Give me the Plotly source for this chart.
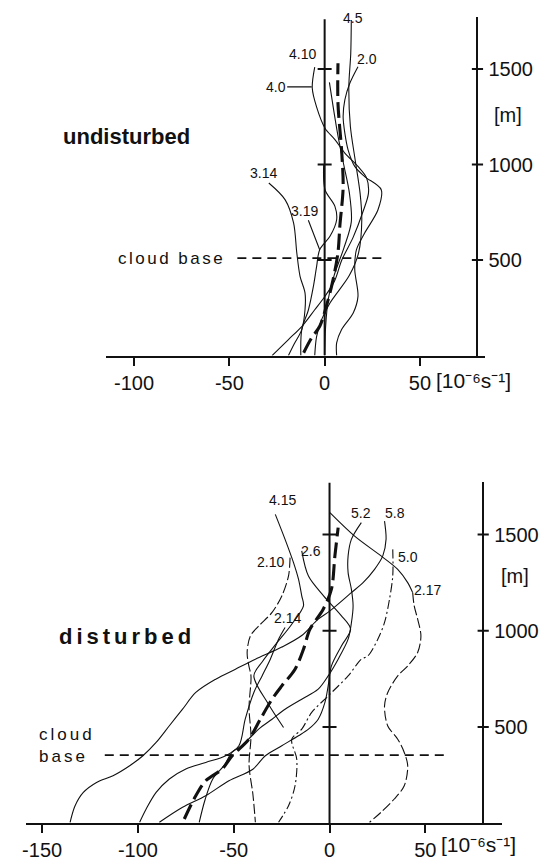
import plotly.graph_objects as go

W, H = 550, 861
INK = "#111111"
FONT = "Liberation Sans"

# ---------------- undisturbed case: divergence (1e-6 s^-1) against height (m) ----------------
UND_MEAN_DIV = [-11, -7, -2.5, 1.5, 4.5, 7, 8, 9.7, 9, 7, 7]
UND_MEAN_Z = [15, 90, 155, 280, 400, 540, 680, 880, 1060, 1320, 1530]

UND_45_DIV = [14, 13.7, 12.7, 13.5, 16, 18.6, 19.5, 17.8, 13, 2.8, -1.6, -4.2, -5.2]
UND_45_Z = [1756, 1580, 1408, 1200, 1025, 850, 711, 537, 420, 275, 188, 101, 0]

UND_20_DIV = [17.5, 13.2, 10.6, 9.7, 10.6, 12.3, 15.8, 21, 29.7, 28, 21, 16.7, 15.8, 17.5, 15, 8.9, 6.3, 6.3]
UND_20_Z = [1512, 1425, 1338, 1251, 1164, 1077, 990, 937, 868, 763, 641, 554, 450, 310, 223, 136, 66, 0]

UND_410_DIV = [-5.2, -6.5, -4.2, 0.2, 5.4, 10.6, 17.5, 22, 23, 20, 15, 9, 5.2, 0, -5.2, -12, -19, -27.6]
UND_410_Z = [1510, 1400, 1300, 1190, 1130, 1060, 990, 930, 850, 750, 620, 500, 390, 308, 240, 152, 84, 0]

UND_40_DIV = [2.5, 4.5, 7, 10, 13, 14, 10, 5, 2, 0.5, 0]
UND_40_Z = [1430, 1300, 1150, 1000, 850, 700, 560, 420, 300, 150, 0]

UND_314_DIV = [-29.3, -20.7, -16.3, -14.6, -12.9, -10.3, -10.3, -12, -16, -19]
UND_314_Z = [903, 815, 694, 537, 415, 328, 240, 136, 60, 0]

UND_319_DIV = [-0.5, 0.2, 5.4, 6.3, 2.8, -2.6, -4.2, -5.9, -8.5, -12, -12.5]
UND_319_Z = [1000, 868, 781, 711, 624, 554, 467, 362, 240, 136, 0]

UND_CLOUD_BASE = 510
UND_CLOUD_SPAN = [-45.8, 30.7]

# ---------------- disturbed case ----------------
DIS_MEAN_DIV = [-75.8, -69.8, -64.6, -56, -50.8, -42.1, -36.1, -30, -24.9, -18, -13.6, -10.2, -3.3, 1, 2.8, 4.5]
DIS_MEAN_Z = [21, 142, 220, 281, 350, 436, 540, 644, 713, 800, 904, 1008, 1112, 1216, 1389, 1536]

DIS_58_DIV = [28.7, 29.5, 27.8, 23.5, 17.5, 11.4, 0.2, -5.9, -14.5, -24.9, -38.7, -49.1, -59.4, -69.8,
              -76.7, -83.6, -90.5, -97.4, -104.3, -113, -121.6, -128.5, -132.8, -135.4]
DIS_58_Z = [1570, 1475, 1389, 1319, 1250, 1198, 1103, 1060, 975, 915, 852, 800, 748, 679,
            592, 506, 419, 350, 298, 246, 211, 159, 90, 4]

DIS_214_DIV = [-23.2, -26.6, -30.9, -35.2, -39.5, -44, -47.3, -54.2, -64.6, -75, -83.6, -90.5, -95.7, -99.1]
DIS_214_Z = [1017, 956, 852, 765, 679, 540, 402, 350, 315, 281, 229, 159, 73, 4]

DIS_415_DIV = [-28.3, -23.2, -18.8, -16.2, -14.5, -13.6, -20, -28, -35, -39.5, -32, -24]
DIS_415_Z = [1605, 1475, 1354, 1268, 1181, 1129, 1030, 930, 840, 765, 620, 497]

DIS_26_DIV = [-14.5, -11, -3, 6, 11, 6.2, 1, -0.7, -2.4, -5.9, -11, -16.2, -24.9, -33.5, -40,
              -52.5, -64.6, -76.7, -88.8]
DIS_26_Z = [1415, 1284, 1180, 1080, 1008, 921, 817, 713, 627, 540, 488, 454, 402, 350, 280,
            220, 142, 82, 4]

DIS_210_DIV = [-20.6, -21.4, -24.9, -30, -36.9, -41.3, -43, -42.1, -41, -42, -41, -42, -40, -38.7]
DIS_210_Z = [1380, 1285, 1181, 1095, 1025, 973, 887, 817, 765, 600, 450, 300, 150, 4]

DIS_52_DIV = [16.6, 11.4, 9.7, 9.7, 11.4, 12.3, 11.4, 9.7, 4.5, -0.7, -5.9, -14.5, -23.2, -30, -37,
              -46, -50.8, -55, -61, -65, -68]
DIS_52_Z = [1562, 1475, 1389, 1302, 1216, 1129, 1040, 956, 852, 765, 696, 644, 592, 540, 488,
            400, 369, 300, 228, 120, 4]

DIS_50_DIV = [33, 33, 31.3, 28.7, 25.2, 20, 16.6, 9.7, -0.7, -9.3, -14.5, -19.7, -17.1, -18, -21.4, -26.6]
DIS_50_Z = [1423, 1285, 1164, 1043, 956, 869, 852, 765, 661, 575, 488, 436, 332, 194, 90, 4]

DIS_217_UP_DIV = [0.2, 13.1, 26.9, 35.6, 40.8, 43.4]
DIS_217_UP_Z = [1614, 1492, 1389, 1319, 1250, 1198]
DIS_217_LO_DIV = [43.4, 44.2, 46, 47.7, 46, 40.8, 35.6, 30.4, 28.7, 30.4, 35.6, 39, 40.8, 39, 33.8, 26.9, 20.9]
DIS_217_LO_Z = [1198, 1129, 1060, 973, 887, 817, 765, 679, 609, 505, 436, 367, 298, 194, 125, 56, 4]

DIS_CLOUD_BASE = 353
DIS_CLOUD_SPAN = [-117.3, 60.6]

# axis ticks
X_TICKS_TOP = [-100, -50, 0, 50]
X_TICKS_BOT = [-150, -100, -50, 0, 50]
Z_TICKS = [500, 1000, 1500]
AXIS_TOP_Z = [1760, 1771]
RIGHT_AXIS_DIV = 80.2

# panel frames (pixels) and value ranges
TOP = dict(left=103, right=485, base=356, top=17, xr=[-114.6, 84.4], zr=[0, 1772])
BOT = dict(left=22, right=502, base=824, top=483, xr=[-158.5, 90.2], zr=[0, 1771])


def py(row):
    return (H - row) / H


def right_axis_pos(p):
    frac = (RIGHT_AXIS_DIV - p["xr"][0]) / (p["xr"][1] - p["xr"][0])
    return (p["left"] + frac * (p["right"] - p["left"])) / W


fig = go.Figure()


def curve(x, y, xa, ya, width=1.1, dash="solid", smooth=0.9):
    fig.add_trace(go.Scatter(
        x=x, y=y, xaxis=xa, yaxis=ya, mode="lines",
        line=dict(color=INK, width=width, dash=dash, shape="spline", smoothing=smooth),
        hoverinfo="skip", showlegend=False))


def frame(xa, ya, top_z):
    # central zero line and its height marks, plus crossing marks on the height axis
    fig.add_trace(go.Scatter(x=[0, 0], y=[0, top_z], xaxis=xa, yaxis=ya, mode="lines",
                             line=dict(color=INK, width=2), hoverinfo="skip", showlegend=False))
    fig.add_trace(go.Scatter(x=[0] * len(Z_TICKS), y=Z_TICKS, xaxis=xa, yaxis=ya, mode="markers",
                             marker=dict(symbol="line-ew", size=10, line=dict(color=INK, width=2)),
                             hoverinfo="skip", showlegend=False))
    fig.add_trace(go.Scatter(x=[RIGHT_AXIS_DIV] * len(Z_TICKS), y=Z_TICKS, xaxis=xa, yaxis=ya,
                             mode="markers",
                             marker=dict(symbol="line-ew", size=8, line=dict(color=INK, width=2)),
                             hoverinfo="skip", showlegend=False))


# ---- undisturbed panel ----
frame("x", "y", AXIS_TOP_Z[0])
fig.add_trace(go.Scatter(x=UND_CLOUD_SPAN, y=[UND_CLOUD_BASE] * 2, xaxis="x", yaxis="y", mode="lines",
                         line=dict(color=INK, width=1.6, dash="9px,6px"), hoverinfo="skip", showlegend=False))
curve(UND_45_DIV, UND_45_Z, "x", "y")
curve(UND_20_DIV, UND_20_Z, "x", "y")
curve(UND_410_DIV, UND_410_Z, "x", "y")
curve(UND_40_DIV, UND_40_Z, "x", "y")
curve(UND_314_DIV, UND_314_Z, "x", "y")
curve(UND_319_DIV, UND_319_Z, "x", "y")
curve(UND_MEAN_DIV, UND_MEAN_Z, "x", "y", width=3.1, dash="16px,6px")

# ---- disturbed panel ----
frame("x2", "y2", AXIS_TOP_Z[1])
fig.add_trace(go.Scatter(x=DIS_CLOUD_SPAN, y=[DIS_CLOUD_BASE] * 2, xaxis="x2", yaxis="y2", mode="lines",
                         line=dict(color=INK, width=1.6, dash="9px,6px"), hoverinfo="skip", showlegend=False))
curve(DIS_58_DIV, DIS_58_Z, "x2", "y2")
curve(DIS_214_DIV, DIS_214_Z, "x2", "y2")
curve(DIS_415_DIV, DIS_415_Z, "x2", "y2")
curve(DIS_26_DIV, DIS_26_Z, "x2", "y2")
curve(DIS_210_DIV, DIS_210_Z, "x2", "y2", dash="10px,3px")
curve(DIS_52_DIV, DIS_52_Z, "x2", "y2")
curve(DIS_50_DIV, DIS_50_Z, "x2", "y2", dash="9px,3px,2px,3px")
curve(DIS_217_UP_DIV, DIS_217_UP_Z, "x2", "y2")
curve(DIS_217_LO_DIV, DIS_217_LO_Z, "x2", "y2", dash="10px,3px")
curve(DIS_MEAN_DIV, DIS_MEAN_Z, "x2", "y2", width=3.1, dash="16px,6px")

tick_font = dict(family=FONT, size=20, color=INK)


def xaxis_cfg(p, ticks):
    return dict(domain=[p["left"] / W, p["right"] / W], range=p["xr"], showline=True, linewidth=2,
                linecolor=INK, ticks="outside", ticklen=8, tickwidth=2, tickcolor=INK,
                tickvals=ticks, ticktext=[str(t) for t in ticks], tickfont=tick_font,
                showgrid=False, zeroline=False, fixedrange=True)


def yaxis_cfg(p):
    return dict(domain=[py(p["base"]), py(p["top"])], range=p["zr"], anchor="free",
                position=right_axis_pos(p), side="right", showline=True, linewidth=2, linecolor=INK,
                ticks="", tickvals=Z_TICKS, ticktext=[str(z) for z in Z_TICKS], tickfont=tick_font,
                ticklabelstandoff=6, showgrid=False, zeroline=False, fixedrange=True)


xa1 = xaxis_cfg(TOP, X_TICKS_TOP)
xa1["anchor"] = "y"
xa2 = xaxis_cfg(BOT, X_TICKS_BOT)
xa2["anchor"] = "y2"
ya1 = yaxis_cfg(TOP)
ya2 = yaxis_cfg(BOT)

lab_font = dict(family=FONT, size=14, color=INK)
ann = []


def label(text, x, y, xr, yr):
    ann.append(dict(text=text, x=x, y=y, xref=xr, yref=yr, showarrow=False, font=lab_font,
                    xanchor="center", yanchor="middle"))


def leader(text, x, y, xr, yr, ax, ay):
    ann.append(dict(text=text, x=x, y=y, xref=xr, yref=yr, showarrow=True, arrowhead=0,
                    arrowwidth=1.1, arrowcolor=INK, ax=ax, ay=ay, standoff=0, font=lab_font))


label("4.5", 15.1, 1768, "x", "y")
label("4.10", -11.5, 1579, "x", "y")
label("2.0", 22.4, 1553, "x", "y")
label("3.14", -32.3, 957, "x", "y")
leader("4.0", -6.8, 1406, "x", "y", -36, 0)
leader("3.19", -2.6, 554, "x", "y", -15, -39)

label("4.15", -24.4, 1678, "x2", "y2")
label("5.2", 16.6, 1610, "x2", "y2")
label("5.8", 34.2, 1610, "x2", "y2")
label("2.6", -9.8, 1413, "x2", "y2")
label("2.10", -30.6, 1356, "x2", "y2")
label("5.0", 40.9, 1382, "x2", "y2")
label("2.17", 51.3, 1210, "x2", "y2")
label("2.14", -21.8, 1065, "x2", "y2")

# unit of the divergence axis, written beside the last tick label
UNIT = "[10\u207b\u2076s\u207b\u00b9]"
unit_font = dict(family=FONT, size=21, color=INK)
ann.append(dict(text=UNIT, x=50, y=0, xref="x", yref="y", xanchor="left", yanchor="middle",
                xshift=14, yshift=-25, showarrow=False, font=unit_font))
ann.append(dict(text=UNIT, x=50, y=0, xref="x2", yref="y2", xanchor="left", yanchor="middle",
                xshift=14, yshift=-21, showarrow=False, font=unit_font))

ann.append(dict(text="[m]", x=508 / W, y=py(115), xref="paper", yref="paper", showarrow=False,
                font=tick_font, xanchor="center", yanchor="middle"))
ann.append(dict(text="[m]", x=515 / W, y=py(577), xref="paper", yref="paper", showarrow=False,
                font=tick_font, xanchor="center", yanchor="middle"))

big = dict(family=FONT, size=22, color=INK)
ann.append(dict(text="<b>undisturbed</b>", x=57 / W, y=py(137), xref="paper", yref="paper",
                showarrow=False, font=big, xanchor="left", yanchor="middle"))
ann.append(dict(text='<b><span style="letter-spacing:4px">disturbed</span></b>', x=53 / W, y=py(637),
                xref="paper", yref="paper", showarrow=False, font=big, xanchor="left", yanchor="middle"))

cb_font = dict(family=FONT, size=17, color=INK)
ann.append(dict(text='<span style="letter-spacing:2.5px">cloud base</span>', x=UND_CLOUD_SPAN[0],
                y=UND_CLOUD_BASE, xref="x", yref="y", xanchor="right", yanchor="middle", xshift=-10,
                showarrow=False, font=cb_font))
ann.append(dict(text='<span style="letter-spacing:3px">cloud<br>base</span>', x=33 / W, y=py(746),
                xref="paper", yref="paper", xanchor="left", yanchor="middle", align="left",
                showarrow=False, font=cb_font))

fig.update_layout(
    width=W, height=H, margin=dict(l=0, r=0, t=0, b=0),
    paper_bgcolor="white", plot_bgcolor="white",
    xaxis=xa1, yaxis=ya1, xaxis2=xa2, yaxis2=ya2,
    annotations=ann, showlegend=False,
)

fig.write_html("out.html")
